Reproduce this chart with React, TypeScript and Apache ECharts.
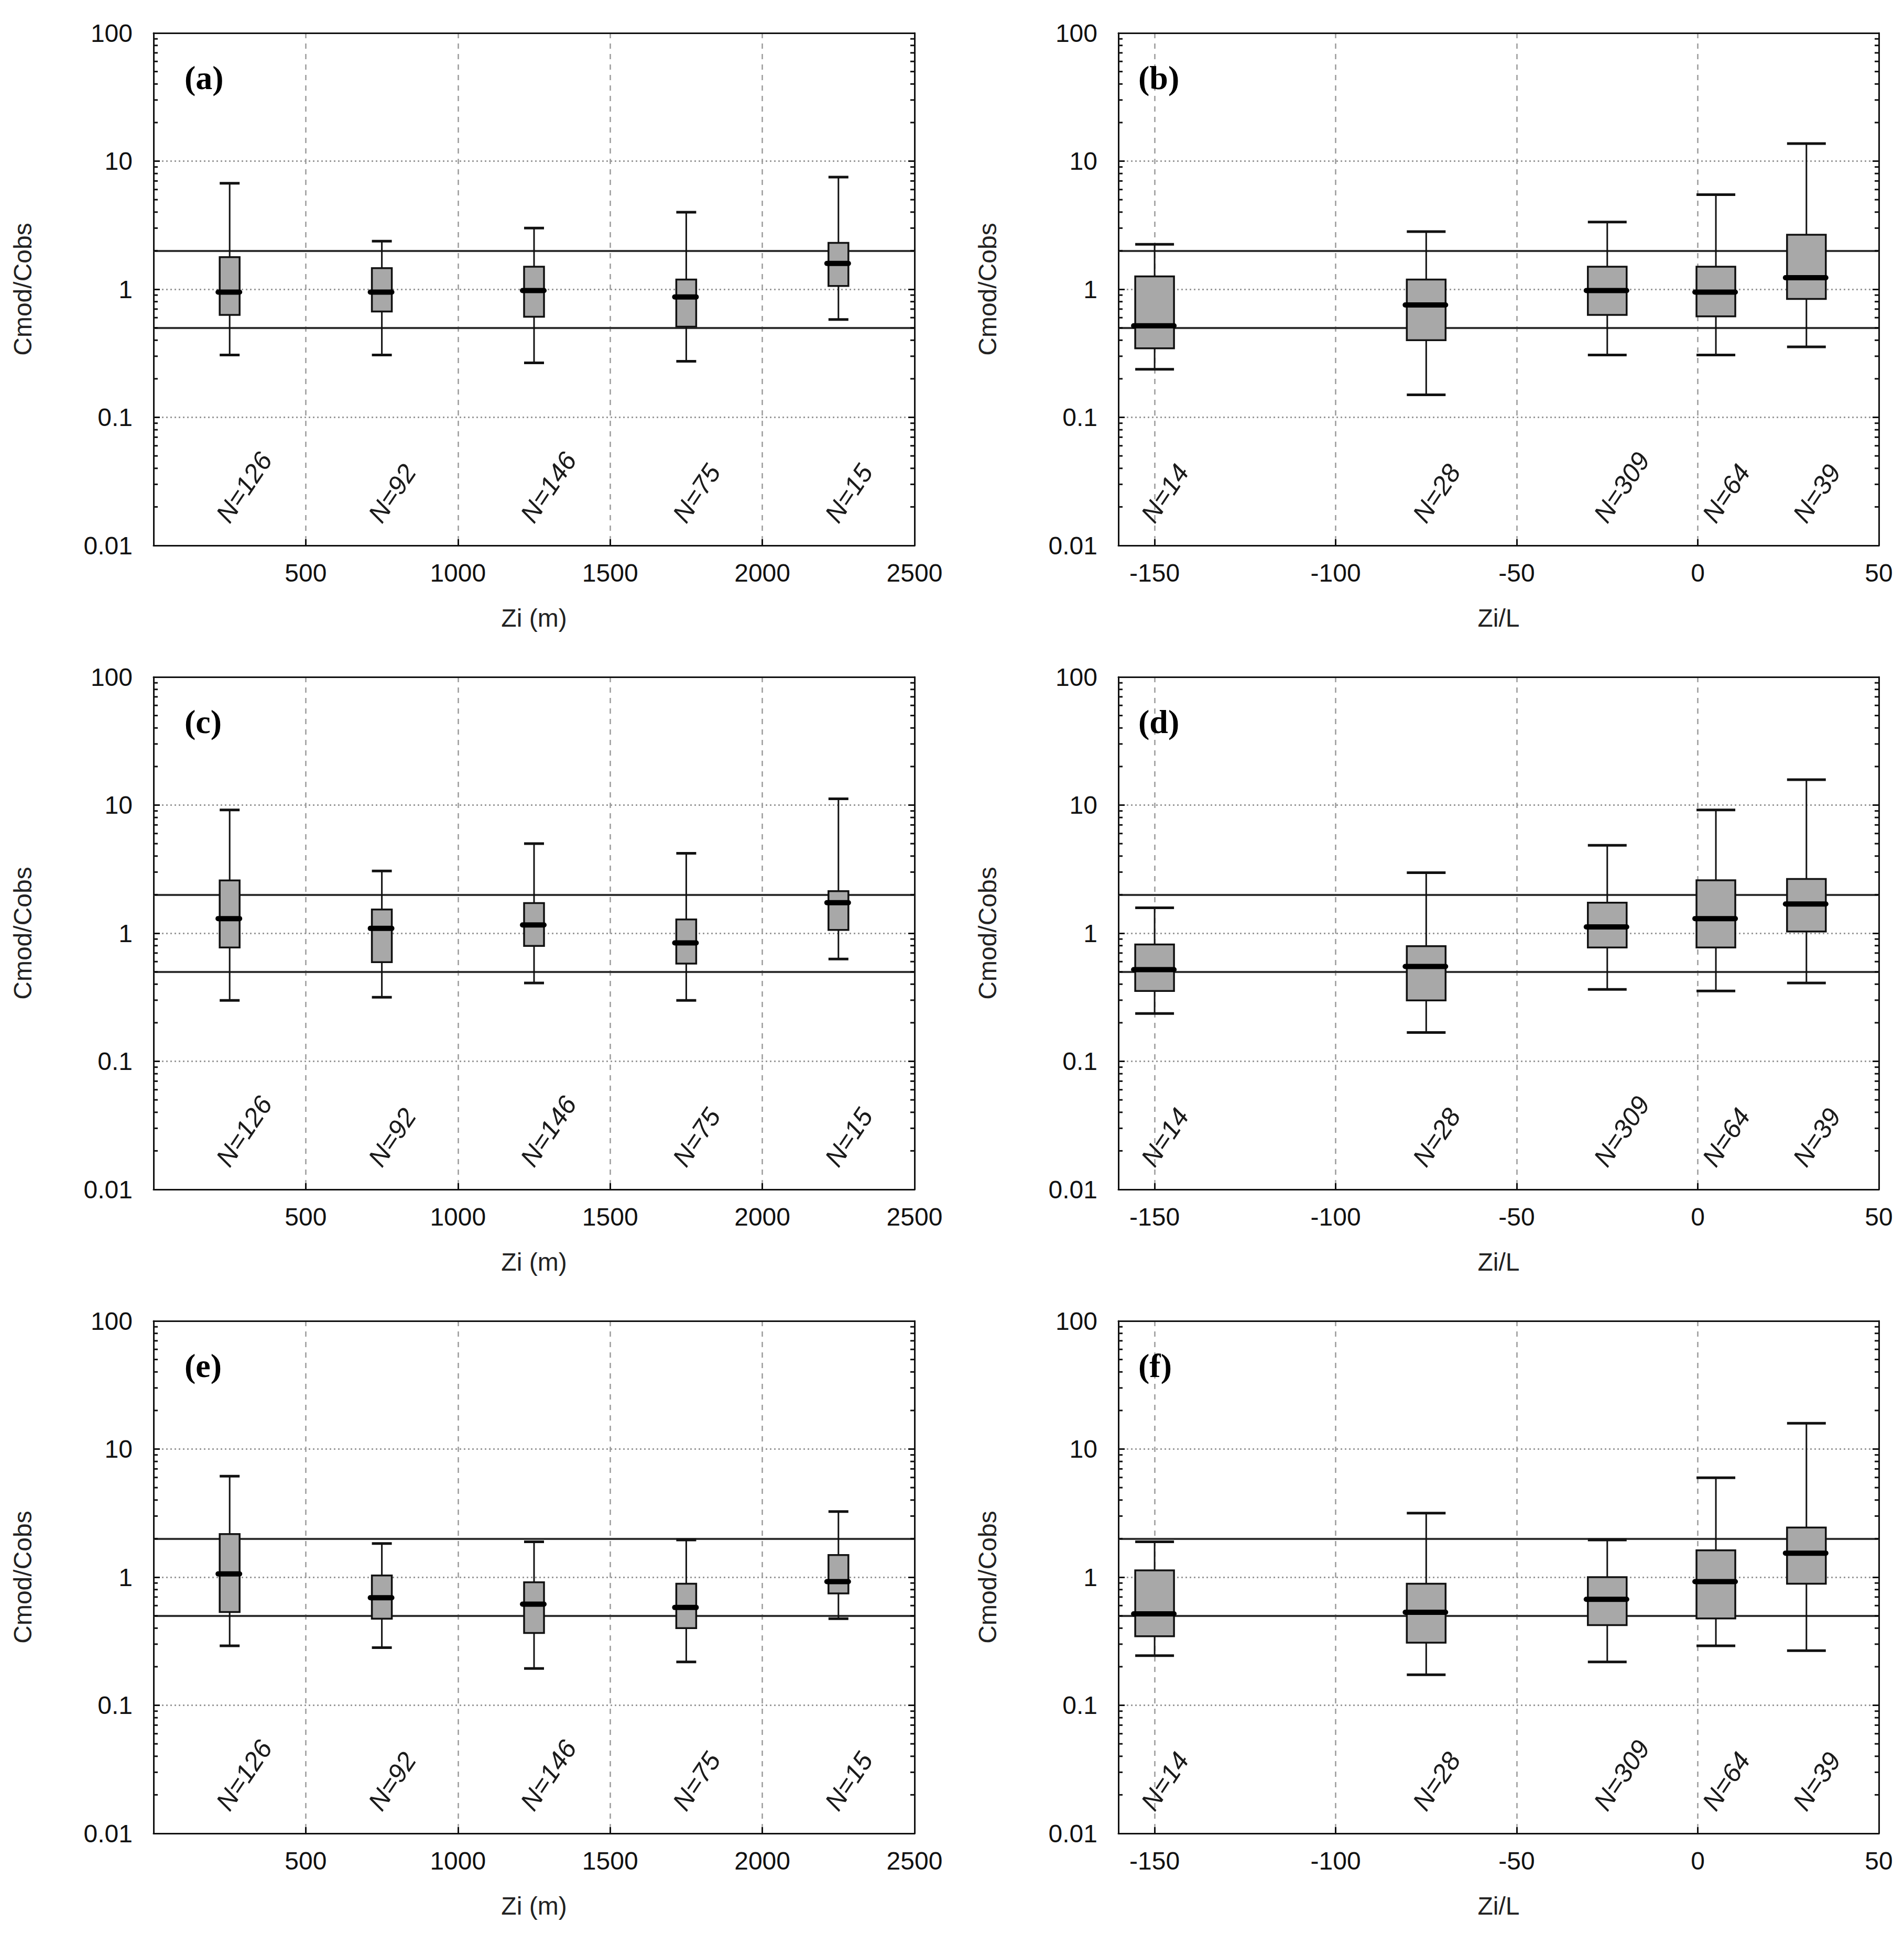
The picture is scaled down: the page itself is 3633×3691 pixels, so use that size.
import React, { useEffect, useRef } from "react";
import * as echarts from "echarts";

// ---------- data ----------
const ziCenters = [250, 750, 1250, 1750, 2250];
const zilCenters = [-150, -75, -25, 5, 30];
const ziCounts = [126, 92, 146, 75, 15];
const zilCounts = [14, 28, 309, 64, 39];
const zilTickValues = [-150, -100, -50, 0, 50];
const minorLogValues = [
  0.02, 0.03, 0.04, 0.05, 0.06, 0.07, 0.08, 0.09,
  0.2, 0.3, 0.4, 0.5, 0.6, 0.7, 0.8, 0.9,
  2, 3, 4, 5, 6, 7, 8, 9,
  20, 30, 40, 50, 60, 70, 80, 90,
];
// each box: [low whisker, Q1, median, Q3, high whisker]
const statsA = [
  [0.307, 0.63, 0.95, 1.78, 6.72],
  [0.307, 0.67, 0.95, 1.46, 2.37],
  [0.266, 0.61, 0.976, 1.5, 3.0],
  [0.274, 0.51, 0.87, 1.19, 3.99],
  [0.58, 1.06, 1.59, 2.3, 7.5],
];
const statsB = [
  [0.237, 0.346, 0.518, 1.26, 2.24],
  [0.15, 0.4, 0.754, 1.19, 2.82],
  [0.307, 0.63, 0.976, 1.5, 3.35],
  [0.307, 0.614, 0.95, 1.5, 5.47],
  [0.355, 0.84, 1.23, 2.66, 13.7],
];
const statsC = [
  [0.299, 0.773, 1.3, 2.58, 9.17],
  [0.316, 0.595, 1.09, 1.53, 3.06],
  [0.409, 0.795, 1.16, 1.72, 5.0],
  [0.299, 0.579, 0.84, 1.28, 4.2],
  [0.629, 1.06, 1.73, 2.13, 11.2],
];
const statsD = [
  [0.236, 0.354, 0.52, 0.817, 1.58],
  [0.168, 0.299, 0.55, 0.792, 2.97],
  [0.364, 0.773, 1.12, 1.73, 4.85],
  [0.354, 0.773, 1.3, 2.59, 9.17],
  [0.409, 1.03, 1.69, 2.65, 15.8],
];
const statsE = [
  [0.291, 0.535, 1.06, 2.17, 6.14],
  [0.282, 0.474, 0.691, 1.03, 1.83],
  [0.194, 0.367, 0.616, 0.913, 1.89],
  [0.218, 0.4, 0.58, 0.888, 1.95],
  [0.474, 0.746, 0.923, 1.49, 3.25],
];
const statsF = [
  [0.244, 0.346, 0.517, 1.13, 1.89],
  [0.173, 0.308, 0.532, 0.888, 3.16],
  [0.218, 0.422, 0.672, 1.0, 1.95],
  [0.291, 0.476, 0.923, 1.62, 5.97],
  [0.267, 0.888, 1.54, 2.44, 15.9],
];
const refLines = [2, 0.5];
const panelLetters = ["a", "b", "c", "d", "e", "f"];
const panelStats = [statsA, statsB, statsC, statsD, statsE, statsF];

// ---------- layout / style ----------
const FONT = '"Liberation Sans", Arial, Helvetica, sans-serif';
const SERIF = '"Liberation Serif", "Times New Roman", serif';
const W = 3633;
const H = 3691;
const colLeft = [293, 2134];
const colWidth = [1452, 1451];
const rowTop = [63, 1292, 2521];
const plotH = 978;
const labelY = 0.0159;

function fmtLog(v: number) {
  return String(Number(v.toPrecision(2)));
}

function buildOption() {
  const grid: any[] = [];
  const xAxis: any[] = [];
  const yAxis: any[] = [];
  const series: any[] = [];
  const title: any[] = [];

  for (let i = 0; i < 6; i++) {
    const col = i % 2;
    const row = Math.floor(i / 2);
    const isZi = col === 0;
    const left = colLeft[col];
    const top = rowTop[row];
    grid.push({ left, top, width: colWidth[col], height: plotH, containLabel: false });

    const xmin = isZi ? 0 : -160;
    const xmax = isZi ? 2500 : 50;
    const boxW = isZi ? 38 : 74;
    const centers = isZi ? ziCenters : zilCenters;
    const counts = isZi ? ziCounts : zilCounts;
    const stats = panelStats[i];

    const xb: any = {
      type: "value",
      gridIndex: i,
      position: "bottom",
      min: xmin,
      max: xmax,
      axisLine: { show: true, onZero: false, lineStyle: { color: "#111", width: 3 } },
      axisTick: { show: true, inside: true, length: 12, lineStyle: { color: "#111", width: 3 } },
      axisLabel: {
        fontSize: 48,
        fontFamily: FONT,
        color: "#111",
        margin: 28,
        formatter: (v: number) => (isZi && v === 0 ? "" : String(v)),
      },
      splitLine: { show: true, lineStyle: { color: "#9a9a9a", width: 2.5, type: [10, 10] } },
      name: isZi ? "Zi (m)" : "Zi/L",
      nameLocation: "middle",
      nameGap: 114,
      nameTextStyle: { fontSize: 48, fontFamily: FONT, color: "#222" },
    };
    if (isZi) {
      xb.interval = 500;
    } else {
      xb.axisTick.customValues = zilTickValues;
      xb.axisLabel.customValues = zilTickValues;
    }
    xAxis.push(xb);
    xAxis.push({
      type: "value",
      gridIndex: i,
      position: "top",
      min: xmin,
      max: xmax,
      axisLine: { show: true, onZero: false, lineStyle: { color: "#111", width: 3 } },
      axisTick: { show: false },
      axisLabel: { show: false },
      splitLine: { show: false },
    });

    yAxis.push({
      type: "log",
      logBase: 10,
      gridIndex: i,
      position: "left",
      min: 0.01,
      max: 100,
      axisLine: { show: true, onZero: false, lineStyle: { color: "#111", width: 3 } },
      axisTick: { show: true, inside: true, length: 12, lineStyle: { color: "#111", width: 3 } },
      axisLabel: { fontSize: 48, fontFamily: FONT, color: "#111", margin: 40, formatter: fmtLog },
      splitLine: { show: true, lineStyle: { color: "#9a9a9a", width: 3, type: [3, 5] } },
      name: "Cmod/Cobs",
      nameLocation: "middle",
      nameGap: 226,
      nameTextStyle: { fontSize: 48, fontFamily: FONT, color: "#222" },
    });
    yAxis.push({
      type: "log",
      logBase: 10,
      gridIndex: i,
      position: "right",
      min: 0.01,
      max: 100,
      axisLine: { show: true, onZero: false, lineStyle: { color: "#111", width: 3 } },
      axisTick: { show: true, inside: true, length: 12, lineStyle: { color: "#111", width: 3 } },
      axisLabel: { show: false },
      splitLine: { show: false },
    });

    const xi = 2 * i;
    const yi = 2 * i;

    // boxes
    series.push({
      type: "custom",
      xAxisIndex: xi,
      yAxisIndex: yi,
      z: 5,
      clip: false,
      encode: { x: 0, y: [1, 2, 3, 4, 5] },
      data: centers.map((x, k) => [x, ...stats[k]]),
      renderItem: (params: any, api: any) => {
        const x = api.value(0);
        const pLo = api.coord([x, api.value(1)]);
        const cx = pLo[0];
        const yLo = pLo[1];
        const yQ1 = api.coord([x, api.value(2)])[1];
        const yMed = api.coord([x, api.value(3)])[1];
        const yQ3 = api.coord([x, api.value(4)])[1];
        const yHi = api.coord([x, api.value(5)])[1];
        const hw = boxW / 2;
        const ink = "#111";
        return {
          type: "group",
          children: [
            { type: "line", shape: { x1: cx, y1: yHi, x2: cx, y2: yQ3 }, style: { stroke: ink, lineWidth: 3 } },
            { type: "line", shape: { x1: cx, y1: yQ1, x2: cx, y2: yLo }, style: { stroke: ink, lineWidth: 3 } },
            { type: "line", shape: { x1: cx - hw, y1: yHi, x2: cx + hw, y2: yHi }, style: { stroke: ink, lineWidth: 5 } },
            { type: "line", shape: { x1: cx - hw, y1: yLo, x2: cx + hw, y2: yLo }, style: { stroke: ink, lineWidth: 5 } },
            {
              type: "rect",
              shape: { x: cx - hw, y: yQ3, width: 2 * hw, height: yQ1 - yQ3 },
              style: { fill: "#a8a8a8", stroke: ink, lineWidth: 3.5 },
            },
            {
              type: "line",
              shape: { x1: cx - hw - 3, y1: yMed, x2: cx + hw, y2: yMed },
              style: { stroke: "#000", lineWidth: 10, lineCap: "round" },
            },
          ],
        };
      },
      markLine: {
        silent: true,
        symbol: ["none", "none"],
        label: { show: false },
        lineStyle: { color: "#333", width: 4, type: "solid" },
        data: refLines.map((v) => ({ yAxis: v })),
        z: 3,
      },
    });

    // minor log ticks on both sides
    series.push({
      type: "custom",
      xAxisIndex: xi,
      yAxisIndex: yi,
      z: 6,
      clip: false,
      encode: { x: 0, y: 1 },
      data: minorLogValues.map((v) => [xmin, v]),
      renderItem: (params: any, api: any) => {
        const cs = params.coordSys;
        const y = api.coord([xmin, api.value(1)])[1];
        return {
          type: "group",
          children: [
            { type: "line", shape: { x1: cs.x, y1: y, x2: cs.x + 8, y2: y }, style: { stroke: "#111", lineWidth: 3 } },
            {
              type: "line",
              shape: { x1: cs.x + cs.width - 8, y1: y, x2: cs.x + cs.width, y2: y },
              style: { stroke: "#111", lineWidth: 3 },
            },
          ],
        };
      },
    });

    // N labels
    series.push({
      type: "custom",
      xAxisIndex: xi,
      yAxisIndex: yi,
      z: 7,
      clip: false,
      encode: { x: 0, y: 1 },
      data: centers.map((x, k) => [x, labelY, counts[k]]),
      renderItem: (params: any, api: any) => {
        const p = api.coord([api.value(0), api.value(1)]);
        return {
          type: "text",
          x: p[0] - 14,
          y: p[1],
          rotation: (56 * Math.PI) / 180,
          style: {
            text: "N=" + api.value(2),
            fontSize: 50,
            fontStyle: "italic",
            fontFamily: FONT,
            fill: "#1a1a1a",
            align: "left",
            verticalAlign: "middle",
          },
        };
      },
    });

    // panel letter
    const cxLabel = left + (isZi ? 97 : 76);
    title.push({
      text: "{p|(}{b|" + panelLetters[i] + "}{p|)}",
      left: cxLabel - 43,
      top: top + 82 - 37,
      padding: 5,
      textStyle: {
        rich: {
          p: { fontFamily: SERIF, fontSize: 64, color: "#000", lineHeight: 70 },
          b: { fontFamily: SERIF, fontSize: 64, fontWeight: "bold", color: "#000", lineHeight: 70 },
        },
      },
    });
  }

  return {
    animation: false,
    backgroundColor: "#ffffff",
    title,
    grid,
    xAxis,
    yAxis,
    series,
  };
}

export default function App() {
  const ref = useRef<HTMLDivElement>(null);
  useEffect(() => {
    if (!ref.current) return;
    const chart = echarts.init(ref.current, undefined, { renderer: "svg" });
    chart.setOption(buildOption() as any);
    return () => chart.dispose();
  }, []);
  return (
    <div
      ref={ref}
      style={{ position: "absolute", left: 0, top: 0, width: W, height: H, background: "#fff" }}
    />
  );
}
